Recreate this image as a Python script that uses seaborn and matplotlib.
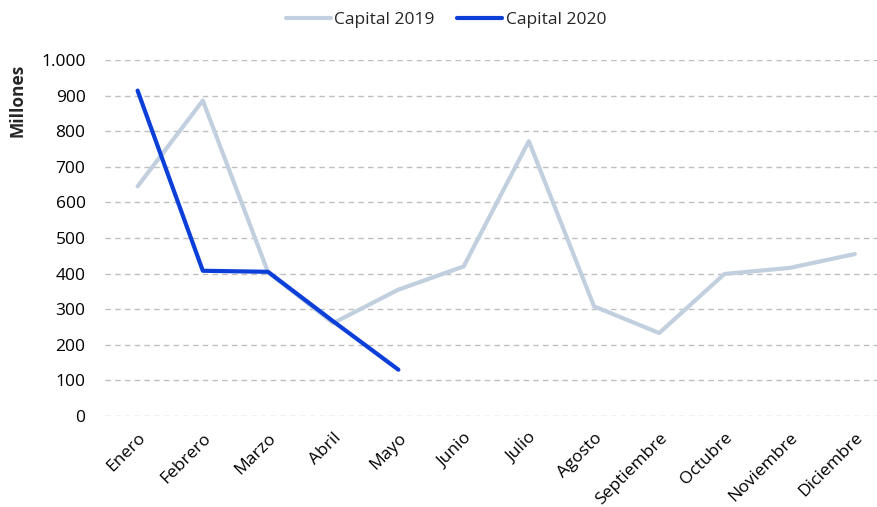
import matplotlib.pyplot as plt
import pandas as pd
import seaborn as sns
from matplotlib.ticker import FuncFormatter

# Data (millions)
meses = ["Enero", "Febrero", "Marzo", "Abril", "Mayo", "Junio", "Julio",
         "Agosto", "Septiembre", "Octubre", "Noviembre", "Diciembre"]
capital_2019 = [645, 886, 404, 261, 355, 420, 772, 308, 233, 399, 416, 455]
capital_2020 = [914, 408, 405, 266, 130]

df = pd.concat([
    pd.DataFrame({"mes": meses, "valor": capital_2019, "serie": "Capital 2019"}),
    pd.DataFrame({"mes": meses[:len(capital_2020)], "valor": capital_2020, "serie": "Capital 2020"}),
])

sns.set_style("white")
plt.rcParams['font.family'] = ['Open Sans', 'DejaVu Sans']

fig = plt.figure(figsize=(8.77, 5.07), dpi=100)
ax = fig.add_axes([105 / 877, 1 - 416 / 507, 772 / 877, 356 / 507])

sns.lineplot(data=df, x="mes", y="valor", hue="serie", sort=False,
             palette={"Capital 2019": "#C1CFDE", "Capital 2020": "#0B3FD8"},
             linewidth=3, ax=ax)

ax.set_ylim(0, 1000)
ax.set_xlim(-0.5, 11.34)
ax.set_yticks(range(0, 1001, 100))
ax.yaxis.set_major_formatter(FuncFormatter(lambda v, p: f"{int(v):,}".replace(",", ".")))
ax.grid(axis='y', color='#BFBFBF', linestyle=(0, (4, 3)), linewidth=1)
ax.set_axisbelow(True)
for s in ax.spines.values():
    s.set_visible(False)

ax.tick_params(axis='both', length=0, labelsize=12.5, colors='black')
ax.tick_params(axis='y', pad=14)
ax.tick_params(axis='x', pad=10)
plt.setp(ax.get_xticklabels(), rotation=45, ha='right', rotation_mode='anchor')
ax.set_xlabel("")
ax.set_ylabel("")
fig.text(18 / 877, 1 - 100 / 507, "Millones", rotation=90, ha='center', va='center',
         fontsize=12.5, fontweight='bold')

handles, labels = ax.get_legend_handles_labels()
ax.get_legend().remove()
fig.legend(handles, labels, loc='center', bbox_to_anchor=(446 / 877, 1 - 20 / 507),
           ncol=2, frameon=False, fontsize=12.5, handlelength=2.6,
           handletextpad=0.2, columnspacing=1.3)

fig.savefig('out.png', dpi=100)
